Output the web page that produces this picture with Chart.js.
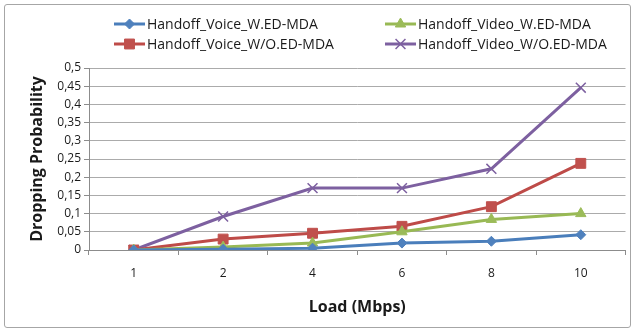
<!DOCTYPE html>
<html>
<head>
<meta charset="utf-8">
<script src="https://cdn.jsdelivr.net/npm/chart.js@4.4.1/dist/chart.umd.min.js"></script>
<style>
  html, body { margin: 0; padding: 0; background: #fff; }
  #wrap { position: relative; width: 634px; height: 333px; }
  #wrap canvas { position: absolute; left: 0; top: 0; }
  #frame { position: absolute; left: 4px; top: 4px; width: 625px; height: 322px;
           border: 1px solid #a6a6a6; border-radius: 3px; pointer-events: none; }
</style>
</head>
<body>
<div id="wrap">
  <canvas id="chart" width="634" height="333"></canvas>
  <div id="frame"></div>
</div>
<script>
// Offered load (Mbps) on the category axis
const loads = ['1', '2', '4', '6', '8', '10'];

// Handoff dropping probability per load
const voiceWith    = [0, 0.002, 0.005, 0.019, 0.024, 0.042];
const videoWith    = [0, 0.008, 0.019, 0.050, 0.084, 0.100];
const voiceWithout = [0, 0.030, 0.046, 0.065, 0.119, 0.238];
const videoWithout = [0, 0.092, 0.170, 0.170, 0.223, 0.446];

const seriesNames = [
  'Handoff_Voice_W.ED-MDA',
  'Handoff_Video_W.ED-MDA',
  'Handoff_Voice_W/O.ED-MDA',
  'Handoff_Video_W/O.ED-MDA'
];

// Y axis range and tick step
const yMin = 0, yMax = 0.5, yStep = 0.05;

const TXT = '#1a1a1a';
const GRID = '#ababab';
const AXIS = '#8c8c8c';

function series(label, data, line, fill, style, radius, bw) {
  return {
    label, data,
    borderColor: line, backgroundColor: fill,
    borderWidth: 3,
    pointStyle: style, pointRadius: radius, pointHoverRadius: radius,
    pointBackgroundColor: fill, pointBorderColor: style === 'crossRot' ? line : fill,
    pointBorderWidth: bw,
    tension: 0, fill: false
  };
}

const datasets = [
  series(seriesNames[0], voiceWith,    '#4a7ebb', '#4f81bd', 'rectRot',  5, 1),
  series(seriesNames[1], videoWith,    '#98b954', '#9bbb59', 'triangle', 6, 1),
  series(seriesNames[2], voiceWithout, '#be4b48', '#c0504d', 'rect',     7, 1),
  series(seriesNames[3], videoWithout, '#7d60a0', '#8064a2', 'crossRot', 7, 1.5)
];

// Two-column legend with a line sample and marker in front of each name
const legendSlots = [
  { x: 114, y: 24 }, { x: 385, y: 24 },
  { x: 114, y: 44 }, { x: 385, y: 44 }
];

const lineLegend = {
  id: 'lineLegend',
  afterDraw(chart) {
    const ctx = chart.ctx;
    ctx.save();
    chart.data.datasets.forEach((ds, i) => {
      const s = legendSlots[i];
      const x0 = s.x, x1 = s.x + 31, y = s.y;
      ctx.strokeStyle = ds.borderColor;
      ctx.lineWidth = 3;
      ctx.beginPath();
      ctx.moveTo(x0, y); ctx.lineTo(x1, y);
      ctx.stroke();
      ctx.fillStyle = ds.pointBackgroundColor;
      ctx.strokeStyle = ds.pointBorderColor;
      ctx.lineWidth = ds.pointBorderWidth;
      Chart.helpers.drawPoint(ctx, {
        pointStyle: ds.pointStyle, rotation: 0,
        radius: ds.pointRadius, borderWidth: ds.pointBorderWidth
      }, (x0 + x1) / 2, y);
      ctx.fillStyle = TXT;
      ctx.font = '14px "Open Sans"';
      ctx.textBaseline = 'middle';
      ctx.textAlign = 'left';
      ctx.fillText(ds.label, x1 + 2, y + 1);
    });
    ctx.restore();
  }
};

new Chart(document.getElementById('chart'), {
  type: 'line',
  data: { labels: loads, datasets },
  plugins: [lineLegend],
  options: {
    responsive: false,
    animation: false,
    layout: { padding: { top: 68, right: 8, bottom: 0, left: 0 } },
    plugins: { legend: { display: false }, tooltip: { enabled: false } },
    scales: {
      x: {
        type: 'category',
        offset: true,
        grid: {
          offset: true, drawOnChartArea: false, drawTicks: true,
          tickLength: 5, color: AXIS, tickColor: AXIS
        },
        border: { color: AXIS, width: 1 },
        ticks: { color: TXT, font: { family: 'Open Sans', size: 12 }, padding: 11, maxRotation: 0 },
        title: {
          display: true, text: 'Load (Mbps)', color: TXT,
          font: { family: 'Open Sans', size: 16, weight: 'bold' },
          padding: { top: 0, bottom: 16 }
        },
        afterFit(scale) { scale.height = 83; }
      },
      y: {
        min: yMin, max: yMax,
        grid: { color: GRID, tickColor: AXIS, tickLength: 5, lineWidth: 1 },
        border: { color: AXIS, width: 1 },
        ticks: {
          stepSize: yStep, color: TXT, padding: 3,
          font: { family: 'Open Sans', size: 12 },
          callback: v => String(parseFloat(v.toFixed(2))).replace('.', ',')
        },
        title: {
          display: true, text: 'Dropping Probability', color: TXT,
          font: { family: 'Open Sans', size: 16, weight: 'bold' },
          padding: { top: 28, bottom: 0 }
        },
        afterFit(scale) { scale.width = 89; }
      }
    }
  }
});
</script>
</body>
</html>
